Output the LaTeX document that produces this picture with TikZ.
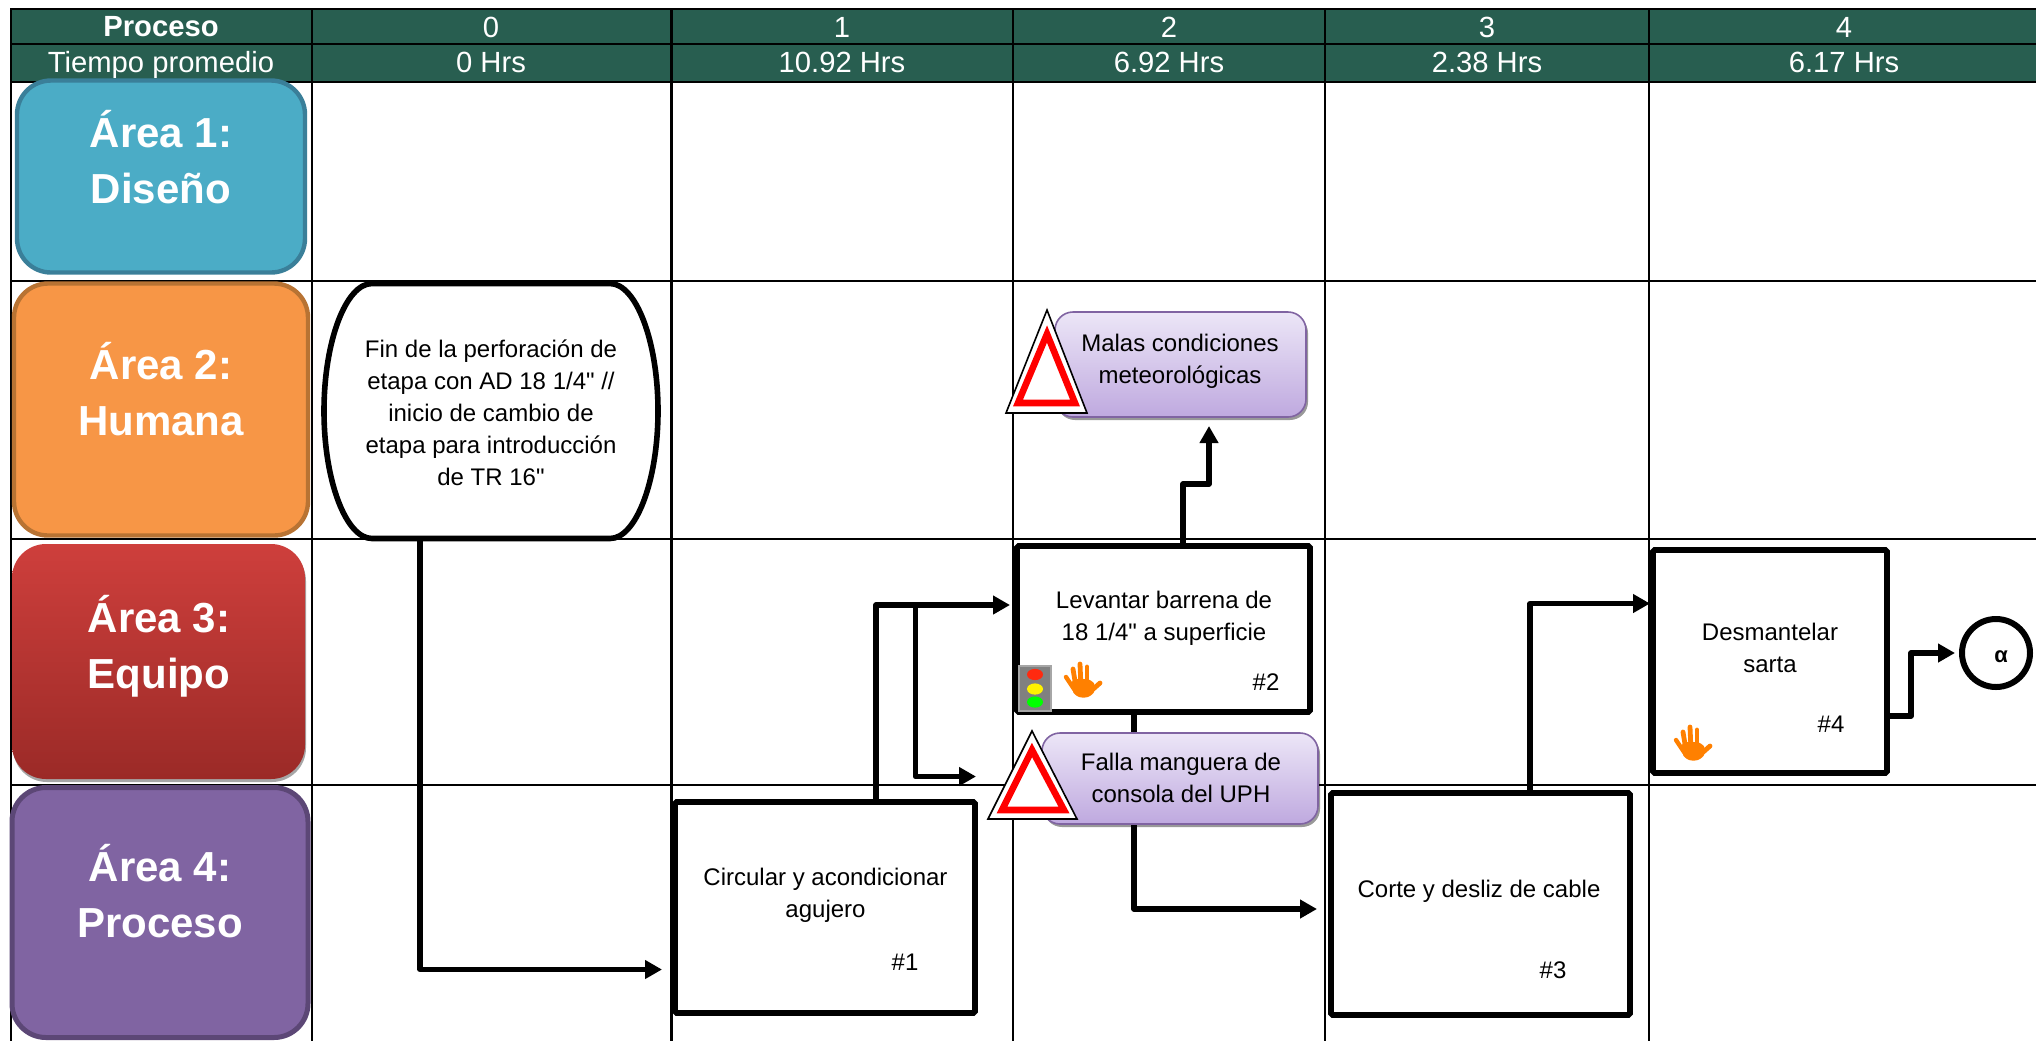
\documentclass[tikz,border=0pt]{standalone}
\usepackage{fontspec}
\setmainfont{Liberation Sans}
\newfontfamily\plainf{Liberation Sans}
\usetikzlibrary{arrows.meta,shadows}
\definecolor{hdr}{HTML}{285E50}
\definecolor{a1f}{HTML}{4BACC6}\definecolor{a1d}{HTML}{3A7F99}
\definecolor{a2f}{HTML}{F79646}\definecolor{a2d}{HTML}{B87333}
\definecolor{a3t}{HTML}{CE3F3C}\definecolor{a3m}{HTML}{B83633}\definecolor{a3b}{HTML}{9B2A27}
\definecolor{a4f}{HTML}{8064A2}\definecolor{a4d}{HTML}{5C4776}
\definecolor{cbd}{HTML}{8064A2}\definecolor{ctp}{HTML}{ECE6F7}\definecolor{cbt}{HTML}{BFA9DF}
\definecolor{handc}{HTML}{FF8000}\definecolor{tlr}{HTML}{FF2A10}
\tikzset{
 gridline/.style={line width=1.2pt,black},
 hdrtxt/.style={text=white,font={\fontsize{14.6}{17}\selectfont},inner sep=0pt},
 hdrbold/.style={hdrtxt,font={\fontsize{14.6}{17}\selectfont\bfseries}},
 areabox/.style={rectangle,rounded corners=17pt,minimum width=#1,outer sep=0pt,inner sep=0pt},
 areatxt/.style={text=white,align=center,font={\fontsize{21}{28}\selectfont\bfseries},inner sep=0pt},
 procbox/.style={draw=black,line width=2.8pt,fill=white,rectangle,rounded corners=0.8pt,outer sep=0pt,inner sep=0pt},
 bodytxt/.style={align=center,text=black,font={\plainf\fontsize{12}{16}\selectfont},inner sep=0pt},
 conn/.style={draw=black,line width=2.6pt,line join=round,-{Triangle[length=8.5pt,width=9pt]}},
 callout/.style={rectangle,rounded corners=9pt,draw=cbd,line width=.8pt,top color=ctp,bottom color=cbt,
   outer sep=0pt,inner sep=0pt,drop shadow={shadow xshift=1pt,shadow yshift=-1.5pt,opacity=.4,fill=black}},
 hand/.pic={
   \fill[handc,rounded corners=3pt] (-12,-3) -- (9,-3) -- (13,6) -- (8,15.5) -- (-7,15.5) -- (-12,6) -- cycle;
   \draw[handc,line width=2.2pt,line cap=round] (-17,-5) -- (-9,7);
   \draw[handc,line width=2.4pt,line cap=round] (-10,-13) -- (-7,5);
   \draw[handc,line width=2.4pt,line cap=round] (-3,-18) -- (-2,5);
   \draw[handc,line width=2.4pt,line cap=round] (4,-15) -- (4,5);
   \draw[handc,line width=2.4pt,line cap=round] (17,1) -- (8,9);
 }
}
\begin{document}
\begin{tikzpicture}[x=0.5pt,y=-0.5pt]
\useasboundingbox (0,0) rectangle (2036,1041);
% header band and grid
\fill[hdr] (11,9) rectangle (2036,82);
\draw[gridline] (2036,9) -- (11,9) -- (11,1041);
\draw[gridline] (11,44) -- (2036,44);
\draw[gridline] (11,82) -- (2036,82);
\draw[gridline] (11,281) -- (2036,281);
\draw[gridline] (11,539) -- (2036,539);
\draw[gridline] (11,785) -- (2036,785);
\foreach \xx in {312,671.5,1013,1325,1649} \draw[gridline] (\xx,9) -- (\xx,1041);
% header text
\node[hdrbold] (hp) at (161,27) {Proceso};
\node[hdrtxt] (ht) at (161,64.5) {Tiempo promedio};
\node[hdrtxt] (h0) at (491,27) {0};
\node[hdrtxt] (h1) at (842,27) {1};
\node[hdrtxt] (h2) at (1169,27) {2};
\node[hdrtxt] (h3) at (1487,27) {3};
\node[hdrtxt] (h4) at (1844,27) {4};
\node[hdrtxt] (t0) at (491,62) {0 Hrs};
\node[hdrtxt] (t1) at (842,62) {10.92 Hrs};
\node[hdrtxt] (t2) at (1169,62) {6.92 Hrs};
\node[hdrtxt] (t3) at (1487,62) {2.38 Hrs};
\node[hdrtxt] (t4) at (1844,62) {6.17 Hrs};
% areas
\node[areabox=144pt,minimum height=96pt,fill=a1f,draw=a1d,line width=2.2pt] (a1) at (161,176.5) {};
\node[areabox=147pt,minimum height=126pt,fill=a2f,draw=a2d,line width=2.2pt] (a2) at (161,409.5) {};
\node[areabox=146.5pt,minimum height=117.5pt,top color=a3t,middle color=a3m,bottom color=a3b,
  drop shadow={shadow xshift=0.5pt,shadow yshift=-1.5pt,opacity=.35,fill=black}] (a3) at (158.5,661.5) {};
\node[areabox=148pt,minimum height=125pt,fill=a4f,draw=a4d,line width=2.5pt] (a4) at (160,912.5) {};
\node[areatxt] (a1t) at (161,157) {Área 1:\\Diseño};
\node[areatxt] (a2t) at (161,389.5) {Área 2:\\Humana};
\node[areatxt] (a3t) at (159,646) {Área 3:\\Equipo};
\node[areatxt] (a4t) at (160,891) {Área 4:\\Proceso};
% terminal
\node[inner sep=0pt,outer sep=0pt,minimum width=167pt,minimum height=127.5pt] (term) at (491,411) {};
\draw[black,line width=2.8pt,fill=white]
  ([xshift=24pt]term.north west) -- ([xshift=-24pt]term.north east)
  .. controls ([xshift=-11pt]term.north east) and ([yshift=35pt]term.east) .. (term.east)
  .. controls ([yshift=-35pt]term.east) and ([xshift=-11pt]term.south east) .. ([xshift=-24pt]term.south east)
  -- ([xshift=24pt]term.south west)
  .. controls ([xshift=11pt]term.south west) and ([yshift=-35pt]term.west) .. (term.west)
  .. controls ([yshift=35pt]term.west) and ([xshift=11pt]term.north west) .. ([xshift=24pt]term.north west) -- cycle;
\node[bodytxt] (termt) at (491,412.5) {Fin de la perforación de\\etapa con AD 18 1/4" //\\inicio de cambio de\\etapa para introducción\\de TR 16"};
% process boxes
\node[procbox,minimum width=150pt,minimum height=105.5pt] (b1) at (825,907.5) {};
\node[procbox,minimum width=146.5pt,minimum height=83pt] (b2) at (1163.5,629) {};
\node[procbox,minimum width=149.5pt,minimum height=111pt] (b3) at (1480.5,904) {};
\node[procbox,minimum width=117pt,minimum height=111.5pt] (b4) at (1770,661.5) {};
% circle
\node[circle,draw=black,line width=3pt,fill=white,minimum size=34pt,inner sep=0pt,outer sep=0pt] (al) at (1996,653) {};
% helper coordinates
\coordinate (j1) at (915.5,605);
\coordinate (j2) at (976,776.5);
\coordinate (m1) at (1209,484);
\coordinate (m2) at (1911,653);
% callouts (target nodes)
\node[callout,minimum width=125.5pt,minimum height=52.5pt] (c1) at (1180.5,364.5) {};
% connectors
\draw[conn,shorten >=6.5pt] ([xshift=-35.5pt]term.south) |- ([yshift=-31pt]b1.west);
\draw[conn,shorten >=3.5pt] ([xshift=25.5pt]b1.north) |- ([yshift=12pt]b2.west);
\draw[conn] (j1) |- (j2);
\draw[conn,shorten >=7pt] ([xshift=-14.75pt]b2.south) |- ([yshift=-2.5pt]b3.west);
\draw[conn,shorten >=4.5pt] ([xshift=9.75pt]b2.north) |- (m1) -- ([xshift=14.25pt]c1.south);
\draw[conn,shorten >=1.5pt] ([xshift=24.75pt]b3.north) |- ([yshift=29pt]b4.west);
\draw[conn,shorten >=3.5pt] ([yshift=-27.25pt]b4.east) -| (m2) -- (al.west);
% box text
\node[bodytxt] (b1t) at (825.5,895) {Circular y acondicionar\\agujero};
\node[bodytxt] (b1n) at (905,962) {\#1};
\node[bodytxt] (b2t) at (1164,618) {Levantar barrena de\\18 1/4" a superficie};
\node[bodytxt] (b2n) at (1266,682) {\#2};
\node[bodytxt] (b3t) at (1479,891) {Corte y desliz de cable};
\node[bodytxt] (b3n) at (1553,970) {\#3};
\node[bodytxt] (b4t) at (1770,647.5) {Desmantelar\\sarta};
\node[bodytxt] (b4n) at (1831,724) {\#4};
\node[bodytxt,font={\fontsize{11}{13}\selectfont\bfseries}] (alt) at (2001,657) {α};
% callout 2 and texts
\node[callout,minimum width=138pt,minimum height=45.5pt] (c2) at (1180,778.5) {};
\node[bodytxt] (c1t) at (1180,361) {Malas condiciones\\meteorológicas};
\node[bodytxt] (c2t) at (1181,777.5) {Falla manguera de\\consola del UPH};
% warning triangles
\draw[black,fill=white,line width=.8pt,line join=miter] (1047,310) -- (1087,413) -- (1006,413) -- cycle;
\draw[red,line width=3.3pt,line join=miter] (1047,334) -- (1075,403) -- (1018,403) -- cycle;
\draw[black,fill=white,line width=.8pt,line join=miter] (1032,731) -- (1077,819) -- (988,819) -- cycle;
\draw[red,line width=3.3pt,line join=miter] (1032,750) -- (1064,810) -- (1002,810) -- cycle;
% traffic light
\draw[fill=gray,draw=gray!70,line width=.6pt] (1019,666) rectangle (1051,711);
\fill[tlr] (1035,674.5) ellipse[x radius=4pt,y radius=2.8pt];
\fill[yellow] (1035,689) ellipse[x radius=4pt,y radius=2.8pt];
\fill[green] (1035,702) ellipse[x radius=4pt,y radius=2.8pt];
% hands
\pic at (1083,682) {hand};
\pic at (1693,745) {hand};
\end{tikzpicture}
\end{document}
